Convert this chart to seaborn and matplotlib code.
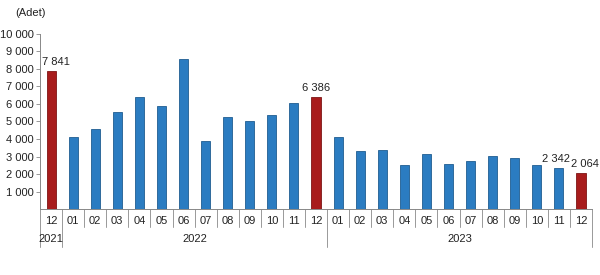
import numpy as np
import pandas as pd
import matplotlib
matplotlib.use("Agg")
import matplotlib.pyplot as plt
import matplotlib.transforms as mtransforms
import seaborn as sns

# monthly counts, 2021-12 .. 2023-12
years = ["2021"] + ["2022"] * 12 + ["2023"] * 12
months = ["12"] + [f"{m:02d}" for m in range(1, 13)] * 2
values = [7841,
          4130, 4550, 5520, 6400, 5890, 8570, 3880, 5270, 5020, 5350, 6050, 6386,
          4130, 3330, 3370, 2540, 3150, 2590, 2760, 3010, 2920, 2500, 2342, 2064]
highlight = {"2021-12": "7 841", "2022-12": "6 386", "2023-11": "2 342", "2023-12": "2 064"}
label_shift = {"2021-12": 3.5, "2022-12": 0, "2023-11": -2, "2023-12": 2.5}  # points
red_bars = ["2021-12", "2022-12", "2023-12"]

df = pd.DataFrame({"year": years, "month": months, "count": values})
df["period"] = df["year"] + "-" + df["month"]
df["group"] = np.where(df["period"].isin(red_bars), "red", "blue")

sns.set_style("white")
plt.rcParams["font.family"] = ["Liberation Sans", "DejaVu Sans"]
FS = 8
TXT = "#222222"

fig = plt.figure(figsize=(6, 2.75), dpi=100)
ax = fig.add_axes([0.0667, 0.239, 0.92, 0.639])

palette = {"blue": "#2b7cc1", "red": "#a81c1c"}
sns.barplot(data=df, x="period", y="count", hue="group", palette=palette,
            dodge=False, width=0.41, legend=False, ax=ax, saturation=1)
for bar in ax.patches:
    fc = bar.get_facecolor()
    bar.set_edgecolor(tuple(c * 0.75 for c in fc[:3]))
    bar.set_linewidth(0.6)

ax.set_xlim(-0.5, len(df) - 0.5)
ax.set_ylim(0, 10000)
ax.set_yticks(range(1000, 10001, 1000))
ax.set_yticklabels([f"{v // 1000} 000" for v in range(1000, 10001, 1000)], fontsize=FS, color=TXT)
ax.tick_params(axis="y", length=3, width=0.6, color="#888888", pad=1.5, left=True)
ax.set_xticks([])
ax.set_xlabel("")
ax.set_ylabel("")
for s in ["top", "right"]:
    ax.spines[s].set_visible(False)
for s in ["left", "bottom"]:
    ax.spines[s].set_color("#888888")
    ax.spines[s].set_linewidth(0.7)

trans = mtransforms.blended_transform_factory(ax.transData, ax.transAxes)

# month labels and separators
for i, m in enumerate(df["month"]):
    ax.text(i, -0.065, m, transform=trans, ha="center", va="center", fontsize=FS, color=TXT)
year_bounds = [0]
for i in range(1, len(df)):
    if df["year"][i] != df["year"][i - 1]:
        year_bounds.append(i)
year_bounds.append(len(df))
for i in range(len(df) + 1):
    low = -0.213 if i in year_bounds else -0.10
    ax.plot([i - 0.5, i - 0.5], [0, low], transform=trans, color="#999999", lw=0.7, clip_on=False)

# year labels
for a, b in zip(year_bounds[:-1], year_bounds[1:]):
    ax.text((a + b - 1) / 2, -0.169, df["year"][a], transform=trans, ha="center", va="center",
            fontsize=FS, color=TXT)

# value labels
for i, p in enumerate(df["period"]):
    if p in highlight:
        ax.annotate(highlight[p], (i, df["count"][i]), xytext=(label_shift[p], 3),
                    textcoords="offset points", ha="center", va="bottom", fontsize=FS, color=TXT,
                    annotation_clip=False)

fig.text(0.05, 0.953, "(Adet)", ha="center", va="center", fontsize=FS, color=TXT)

fig.savefig("out.png", dpi=100, facecolor="white")
